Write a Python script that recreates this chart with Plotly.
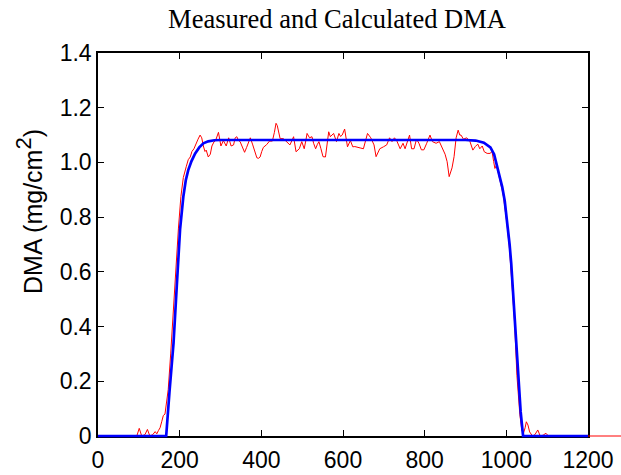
import plotly.graph_objects as go

# ---------------- data ----------------
blue_x = [0, 167, 175, 185, 193, 201, 209, 215, 221, 229, 238, 248, 258, 270, 285, 300,
          900, 925, 945, 961, 970, 977, 984, 990, 996, 1002, 1008, 1012, 1016, 1020,
          1025, 1030, 1035, 1041, 1200]
blue_y = [0, 0, 0.16, 0.34, 0.55, 0.755, 0.875, 0.935, 0.972, 1.005, 1.033, 1.055, 1.07,
          1.077, 1.081, 1.082, 1.082, 1.080, 1.072, 1.055, 1.03, 0.99, 0.95, 0.91, 0.86,
          0.79, 0.70, 0.63, 0.53, 0.42, 0.30, 0.18, 0.09, 0, 0]

red_x = [0, 95, 101, 107, 115, 121, 127, 134, 140, 144, 148, 152, 156, 160, 164, 172, 178,
         185, 191, 197, 203, 209, 216, 221, 226, 230, 235, 240, 245, 250, 254, 258, 262,
         265, 270, 275, 279, 284, 288, 295, 301, 307, 314, 320, 326, 332, 336, 340, 344,
         348, 353, 359, 364, 368, 373, 379, 384, 389, 393, 397, 401, 405, 409, 413, 420,
         427, 432, 436, 439, 442, 446, 454, 459, 464, 470, 475, 479, 485, 489, 493, 499,
         505, 509, 512, 518, 524, 528, 533, 537, 541, 546, 551, 557, 561, 565, 569, 573,
         577, 584, 590, 594, 598, 604, 611, 618, 624, 629, 634, 642, 650, 655, 660, 668,
         676, 681, 686, 690, 699, 707, 714, 720, 726, 732, 740, 747, 752, 758, 763, 768,
         774, 780, 786, 792, 798, 805, 813, 819, 828, 836, 845, 850, 855, 860, 867, 872,
         877, 882, 886, 889, 895, 903, 911, 918, 924, 930, 935, 941, 946, 953, 960, 965,
         969, 972, 976, 979, 984, 989, 993, 998, 1002, 1008, 1014, 1020, 1026, 1030, 1033,
         1038, 1042, 1046, 1049, 1053, 1057, 1064, 1070, 1077, 1083, 1090, 1097, 1103, 1300]
red_y = [0, 0, 0.028, 0, 0.005, 0.024, 0, 0.005, 0.016, 0.008, 0.02, 0.03, 0.052, 0.075,
         0.08, 0.17, 0.30, 0.47, 0.64, 0.76, 0.875, 0.945, 0.984, 1.01, 1.02, 1.04, 1.05,
         1.07, 1.085, 1.10, 1.09, 1.06, 1.04, 1.045, 1.02, 1.03, 1.06, 1.075, 1.08, 1.11,
         1.06, 1.08, 1.06, 1.09, 1.06, 1.064, 1.09, 1.094, 1.08, 1.076, 1.06, 1.037, 1.055,
         1.07, 1.09, 1.064, 1.04, 1.017, 1.015, 1.02, 1.04, 1.055, 1.06, 1.065, 1.078,
         1.078, 1.11, 1.143, 1.135, 1.118, 1.087, 1.087, 1.08, 1.076, 1.064, 1.08, 1.094,
         1.039, 1.045, 1.05, 1.076, 1.05, 1.08, 1.106, 1.09, 1.094, 1.07, 1.05, 1.065,
         1.076, 1.05, 1.021, 1.02, 1.06, 1.112, 1.094, 1.1, 1.106, 1.076, 1.106, 1.095,
         1.10, 1.122, 1.057, 1.08, 1.057, 1.058, 1.057, 1.053, 1.05, 1.08, 1.106, 1.09,
         1.064, 1.021, 1.04, 1.05, 1.057, 1.064, 1.09, 1.076, 1.09, 1.078, 1.05, 1.07,
         1.05, 1.08, 1.10, 1.05, 1.05, 1.085, 1.07, 1.046, 1.046, 1.07, 1.10, 1.076, 1.07,
         1.076, 1.05, 1.03, 1.003, 0.948, 0.98, 1.021, 1.09, 1.118, 1.10, 1.10, 1.085,
         1.09, 1.076, 1.045, 1.058, 1.067, 1.05, 1.06, 1.039, 1.033, 1.033, 1.04, 1.003,
         0.978, 0.99, 0.972, 0.94, 0.905, 0.875, 0.82, 0.77, 0.68, 0.56, 0.42, 0.22, 0.14,
         0.08, 0.02, 0.01, 0.03, 0.052, 0.04, 0.015, 0, 0.005, 0.022, 0, 0.003, 0.01, 0, 0]

x_ticks = [0, 200, 400, 600, 800, 1000, 1200]
y_ticks = [0, 0.2, 0.4, 0.6, 0.8, 1.0, 1.2, 1.4]
y_tick_text = ["0", "0.2", "0.4", "0.6", "0.8", "1.0", "1.2", "1.4"]
title_text = "Measured and Calculated DMA"
y_label = "DMA (mg/cm<sup><span style=\"font-size:22px\">2</span></sup>)"

# ---------------- geometry ----------------
W, H = 621, 475
L, R, T, B = 90, 0, 53, 30
X_LEFT_PX, X_RIGHT_PX = 98, 588     # visible axis box
Y_BOTTOM_PX = 436
pw = W - L - R
ph = H - T - B
xscale = (X_RIGHT_PX - X_LEFT_PX) / 1200.0
yscale = (Y_BOTTOM_PX - T) / 1.4
x_dom = [(X_LEFT_PX - L) / pw, (X_RIGHT_PX - L) / pw]
y_dom = [(H - B - Y_BOTTOM_PX) / ph, 1]
x2_range = [(L - X_LEFT_PX) / xscale, (W - R - X_LEFT_PX) / xscale]
y2_range = [-(H - B - Y_BOTTOM_PX) / yscale, 1.4]


def px_to_paper(px, py):
    return (px - L) / pw, (H - B - py) / ph


fig = go.Figure()
# empty trace so the visible (decorative) axes get drawn
fig.add_trace(go.Scatter(x=[None], y=[None], mode="lines", xaxis="x", yaxis="y",
                         hoverinfo="skip", showlegend=False))
fig.add_trace(go.Scatter(x=red_x, y=red_y, mode="lines", xaxis="x2", yaxis="y2",
                         line=dict(color="#ff0000", width=1), showlegend=False))
fig.add_trace(go.Scatter(x=blue_x, y=blue_y, mode="lines", xaxis="x2", yaxis="y2",
                         line=dict(color="#0000ff", width=2.7), showlegend=False))

tickfont = dict(family="Liberation Sans, Arial, sans-serif", size=23, color="black")
lab_x, lab_y = px_to_paper(29, 212)
fig.update_layout(
    width=W, height=H,
    margin=dict(l=L, r=R, t=T, b=B, autoexpand=False),
    paper_bgcolor="white", plot_bgcolor="rgba(0,0,0,0)",
    showlegend=False,
    title=dict(text=title_text, x=337 / W, xanchor="center", y=1 - 19 / H,
               yanchor="middle",
               font=dict(family="Liberation Serif, Times New Roman, serif", size=26.5,
                         color="black")),
    xaxis=dict(domain=x_dom, range=[0, 1200], anchor="y", tickmode="array",
               tickvals=x_ticks, ticks="inside", ticklen=6, tickcolor="black",
               showline=True, linecolor="black", linewidth=1.5, mirror="ticks",
               showgrid=False, zeroline=False, tickfont=tickfont, automargin=False,
               ticklabelstandoff=3),
    yaxis=dict(domain=y_dom, range=[0, 1.4], anchor="x", tickmode="array",
               tickvals=y_ticks, ticktext=y_tick_text, ticks="inside", ticklen=6,
               tickcolor="black", showline=True, linecolor="black", linewidth=1.5,
               mirror="ticks", showgrid=False, zeroline=False, tickfont=tickfont,
               automargin=False),
    xaxis2=dict(domain=[0, 1], range=x2_range, anchor="y2", visible=False),
    yaxis2=dict(domain=[0, 1], range=y2_range, anchor="x2", visible=False),
    annotations=[dict(text=y_label, xref="paper", yref="paper", x=lab_x, y=lab_y,
                      xanchor="center", yanchor="middle", textangle=-90,
                      showarrow=False,
                      font=dict(family="Liberation Sans, Arial, sans-serif", size=25,
                                color="black"))],
)

fig.write_html("out.html")
